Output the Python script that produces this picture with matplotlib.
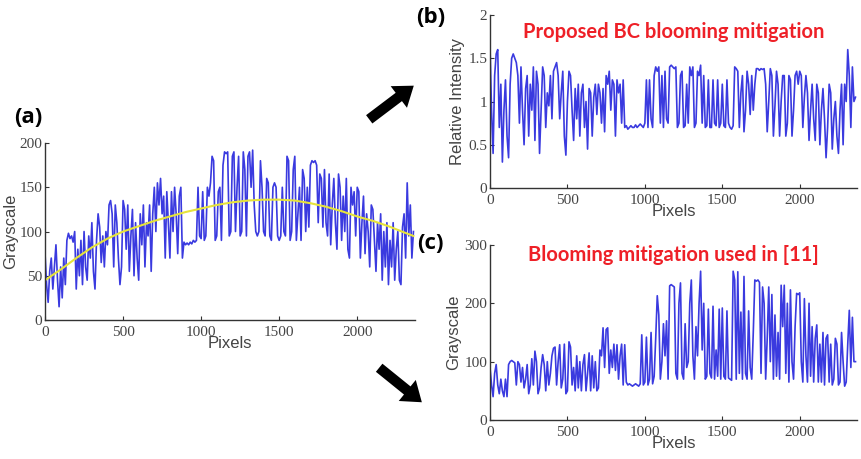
import numpy as np
import matplotlib
matplotlib.use('Agg')
import matplotlib.pyplot as plt
from matplotlib.patches import FancyArrowPatch

# grayscale profile before mitigation (sampled every 10 pixels)
gray_raw = [
    75, 40, 20, 55, 70, 35, 60, 85, 45, 15,
    60, 25, 70, 40, 90, 98, 92, 95, 88, 100,
    35, 80, 50, 90, 40, 100, 60, 45, 95, 70,
    110, 55, 35, 90, 120, 105, 65, 95, 60, 100,
    85, 130, 135, 120, 60, 130, 110, 70, 40, 60,
    135, 125, 80, 130, 55, 95, 125, 50, 110, 70,
    45, 120, 85, 130, 60, 110, 95, 130, 55, 120,
    150, 100, 155, 130, 160, 120, 140, 70, 145, 110,
    70, 145, 100, 150, 120, 75, 140, 150, 70, 88,
    85, 87, 85, 88, 86, 90, 88, 90, 150, 95,
    92, 145, 90, 95, 150, 140, 155, 185, 180, 90,
    95, 145, 150, 90, 175, 190, 188, 190, 95, 100,
    185, 190, 100, 150, 185, 95, 100, 190, 170, 95,
    185, 190, 150, 192, 130, 100, 95, 100, 180, 150,
    100, 95, 160, 155, 95, 90, 150, 155, 150, 95,
    90, 95, 150, 100, 95, 185, 180, 90, 100, 170,
    185, 90, 120, 150, 90, 170, 160, 100, 150, 105,
    175, 180, 178, 180, 175, 110, 165, 160, 105, 170,
    110, 95, 165, 85, 130, 160, 110, 80, 165, 150,
    90, 140, 100, 160, 80, 70, 150, 130, 145, 95,
    150, 145, 70, 110, 140, 75, 120, 100, 60, 130,
    125, 90, 55, 110, 80, 120, 45, 100, 60, 110,
    40, 90, 60, 110, 45, 80, 100, 45, 40, 105,
    120, 70, 155, 95, 130, 70, 100,
]

# fitted background (yellow curve)
fit_x = [0, 100, 200, 300, 400, 500, 600, 700, 800, 900, 1000, 1100, 1200,
         1300, 1400, 1500, 1600, 1700, 1800, 1900, 2000, 2100, 2200, 2300, 2360]
fit_y = [45, 57, 70, 82, 92, 100, 106, 112, 117, 122, 126, 130, 133,
         135, 136, 136, 135, 132, 128, 123, 117, 112, 106, 99, 95]

# (b) relative intensity after proposed BC mitigation
rel_int = [
    1.65, 0.9, 0.4, 1.3, 1.55, 1.6, 0.7, 1.2, 0.3, 0.9,
    1.25, 0.6, 0.35, 1.2, 1.5, 1.55, 1.5, 1.45, 1.3, 0.75,
    1.4, 0.9, 0.5, 1.15, 1.3, 0.6, 1.2, 0.9, 1.4, 0.55,
    1.35, 1.2, 0.4, 0.9, 1.4, 1.3, 0.7, 1.1, 0.95, 1.3,
    0.8, 1.35, 1.4, 1.45, 1.3, 0.8, 1.1, 1.35, 0.6, 0.38,
    1.0, 1.35, 1.3, 0.9, 0.55, 1.15, 0.8, 1.2, 0.6, 1.1,
    1.2, 0.7, 1.0, 0.45, 1.15, 1.1, 0.6, 1.05, 1.2, 0.85,
    1.2, 1.1, 0.75, 1.15, 0.65, 1.3, 1.2, 1.35, 0.9, 1.25,
    1.2, 0.6, 1.25, 1.1, 1.2, 0.75, 1.25, 0.7, 0.72, 0.68,
    0.7, 0.72, 0.7, 0.7, 0.73, 0.7, 0.72, 0.74, 0.72, 0.7,
    0.75, 1.25, 0.7, 1.25, 0.8, 0.7, 1.3, 1.4, 1.35, 1.4,
    0.75, 1.3, 0.7, 1.35, 0.8, 0.75, 1.4, 1.42, 1.4, 1.38,
    1.4, 0.7, 0.75, 1.3, 1.35, 0.7, 0.72, 1.2, 0.75, 1.4,
    1.3, 1.4, 0.7, 0.75, 1.35, 1.3, 1.42, 0.75, 1.3, 0.7,
    0.72, 1.25, 0.7, 0.7, 1.25, 0.75, 0.72, 1.25, 0.7, 0.75,
    1.2, 0.72, 0.7, 1.25, 0.75, 0.7, 0.68, 0.72, 1.4, 1.38,
    1.35, 0.7, 1.1, 1.3, 0.65, 0.9, 1.35, 1.2, 0.85, 1.3,
    0.9, 1.2, 1.38, 1.38, 1.36, 1.38, 1.37, 1.38, 1.2, 0.65,
    1.0, 1.38, 1.3, 0.6, 0.95, 1.35, 1.2, 0.6, 1.0, 1.3,
    1.3, 0.6, 0.75, 1.3, 1.25, 0.6, 0.9, 1.3, 1.35, 1.2,
    1.35, 1.3, 0.7, 1.05, 1.3, 1.1, 0.55, 0.9, 1.2, 0.8,
    0.55, 1.2, 1.1, 0.5, 0.9, 1.15, 0.8, 0.35, 0.7, 1.2,
    1.1, 0.45, 0.8, 1.0, 0.6, 0.4, 0.9, 1.2, 0.5, 1.2,
    1.0, 1.6, 1.3, 0.7, 1.4, 1.0, 1.05,
]

# (c) grayscale with blooming mitigation of [11]
gray_ref = [
    90, 60, 40, 80, 95, 60, 45, 70, 50, 40,
    70, 40, 95, 100, 102, 100, 98, 60, 100, 95,
    65, 90, 55, 70, 95, 45, 60, 105, 60, 118,
    100, 45, 55, 90, 112, 95, 50, 100, 60, 80,
    110, 123, 125, 60, 100, 129, 55, 70, 130, 45,
    50, 134, 125, 60, 90, 50, 110, 55, 100, 50,
    95, 112, 50, 80, 115, 50, 110, 55, 100, 50,
    55, 120, 110, 158, 90, 155, 158, 80, 120, 90,
    130, 85, 129, 70, 110, 130, 60, 129, 65, 60,
    62, 60, 58, 60, 62, 60, 58, 62, 146, 60,
    65, 142, 60, 70, 150, 62, 75, 140, 213, 180,
    70, 100, 165, 110, 170, 70, 230, 232, 230, 228,
    80, 70, 200, 235, 80, 70, 165, 90, 100, 200,
    240, 110, 70, 160, 110, 200, 255, 120, 200, 70,
    75, 190, 80, 72, 195, 70, 120, 75, 190, 70,
    192, 75, 70, 187, 72, 70, 68, 255, 240, 70,
    254, 80, 185, 70, 246, 80, 70, 187, 90, 70,
    150, 240, 238, 240, 236, 80, 228, 200, 70, 140,
    228, 100, 215, 70, 180, 75, 150, 70, 231, 160,
    231, 80, 200, 65, 223, 100, 70, 160, 217, 215,
    218, 100, 65, 208, 110, 65, 200, 75, 160, 65,
    140, 163, 65, 130, 65, 150, 60, 140, 146, 65,
    130, 60, 70, 140, 130, 60, 65, 150, 100, 58,
    65, 130, 188, 90, 176, 100, 100,
]

pix = np.arange(len(gray_raw)) * 10

blue = '#2424dc'
red = '#ee2027'
tick_font = 'Liberation Serif'
label_font = 'Liberation Sans'

fig = plt.figure(figsize=(8.61, 4.59), dpi=100)
ax_a = fig.add_axes([0.0523, 0.3028, 0.4297, 0.3856])
ax_b = fig.add_axes([0.5691, 0.5904, 0.4263, 0.3769])
ax_c = fig.add_axes([0.5691, 0.0850, 0.4263, 0.3813])

ax_a.plot(pix, gray_raw, color=blue, lw=1.2, alpha=0.9)
ax_a.plot(fit_x, fit_y, color='#e6e33a', lw=1.5)
ax_b.plot(pix, rel_int, color=blue, lw=1.2, alpha=0.9)
ax_c.plot(pix, gray_ref, color=blue, lw=1.2, alpha=0.9)

setup = [
    (ax_a, [0, 50, 100, 150, 200], ['0', '50', '100', '150', '200'], 'Grayscale'),
    (ax_b, [0, 0.5, 1, 1.5, 2], ['0', '0.5', '1', '1.5', '2'], 'Relative Intensity'),
    (ax_c, [0, 100, 200, 300], ['0', '100', '200', '300'], 'Grayscale'),
]
for ax, yt, ytl, ylab in setup:
    ax.set_xlim(0, 2370)
    ax.set_ylim(yt[0], yt[-1])
    ax.set_yticks(yt)
    ax.set_yticklabels(ytl)
    ax.set_xticks([0, 500, 1000, 1500, 2000])
    ax.set_xticklabels(['0', '500', '1000', '1500', '2000'])
    for s in ['top', 'right']:
        ax.spines[s].set_visible(False)
    for s in ['left', 'bottom']:
        ax.spines[s].set_linewidth(1.0)
        ax.spines[s].set_color('#333333')
    ax.tick_params(direction='in', length=3, width=0.8, colors='#333333',
                   labelsize=11, pad=2)
    ax.tick_params(axis='x', pad=4)
    for lab in ax.get_xticklabels() + ax.get_yticklabels():
        lab.set_fontfamily(tick_font)
        lab.set_color('#444444')
    ax.set_xlabel('Pixels', fontfamily=label_font, fontsize=12,
                  color='#444444', labelpad=-2)
    ax.set_ylabel(ylab, fontfamily=label_font, fontsize=12,
                  color='#444444', labelpad=2)

ax_a.yaxis.labelpad = 1

ax_b.set_title('Proposed BC blooming mitigation', fontfamily='Lato',
               fontweight='bold', fontsize=14.5, color=red, y=0.82)
ax_c.set_title('Blooming mitigation used in [11]', fontfamily='Lato',
               fontweight='bold', fontsize=14.5, color=red, y=0.86)

# panel letters
fig.text(0.033, 0.745, '(a)', fontfamily='Open Sans', fontweight='bold',
         fontsize=16, ha='center', va='center')
fig.text(0.500, 0.962, '(b)', fontfamily='Open Sans', fontweight='bold',
         fontsize=16, ha='center', va='center')
fig.text(0.500, 0.470, '(c)', fontfamily='Open Sans', fontweight='bold',
         fontsize=16, ha='center', va='center')

# arrows between panels
style = 'simple,tail_width=0.5,head_width=1.3,head_length=0.9'
for p0, p1 in [((367 / 861, 1 - 121 / 459), (416 / 861, 1 - 84 / 459)),
               ((377 / 861, 1 - 366 / 459), (424 / 861, 1 - 404 / 459))]:
    arr = FancyArrowPatch(p0, p1, transform=fig.transFigure,
                          arrowstyle=style, mutation_scale=15,
                          color='black', lw=0)
    fig.patches.append(arr)

fig.savefig('out.png', dpi=100)
